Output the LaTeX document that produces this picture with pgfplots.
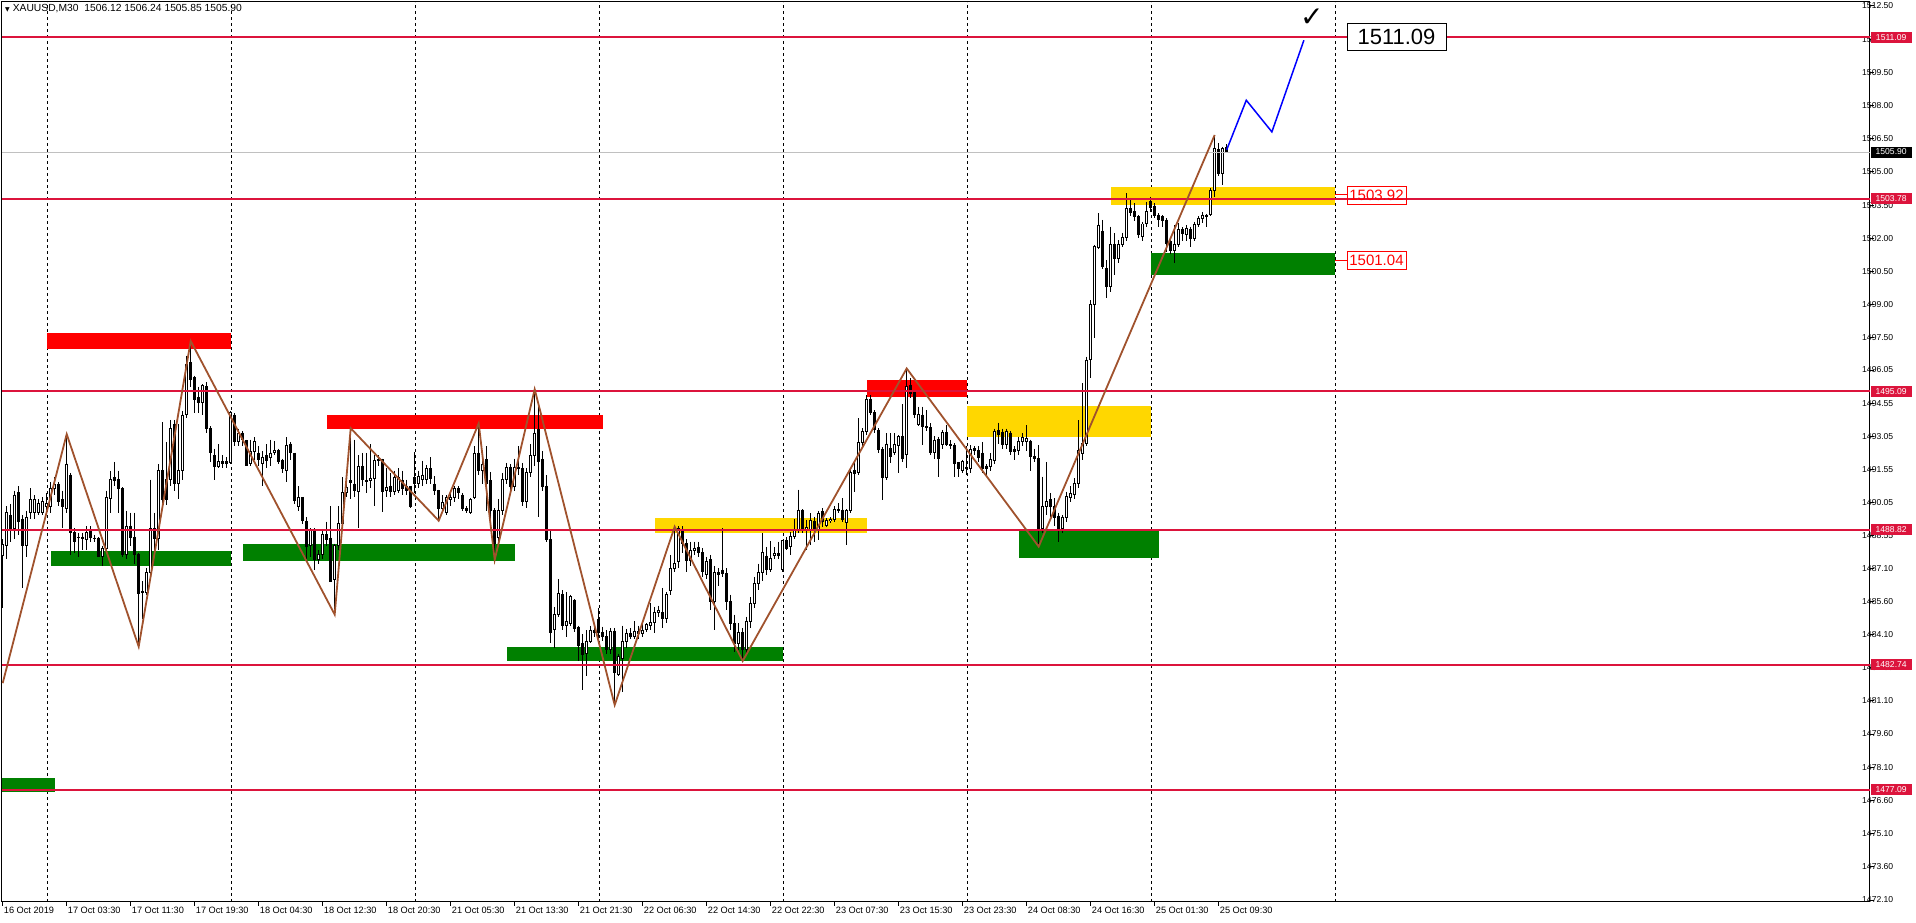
\documentclass[border=0pt]{standalone}
\usepackage{pgfplots}
\pgfplotsset{compat=1.18}
\usepackage{pgfplotstable}
\usepackage{fontspec}
\setmainfont{Liberation Sans}
\newfontfamily\dejavu{DejaVu Sans}
\definecolor{crim}{RGB}{220,20,60}
\definecolor{mtgreen}{RGB}{0,128,0}
\definecolor{mtred}{RGB}{255,0,0}
\definecolor{mtgold}{RGB}{255,215,0}
\definecolor{zz}{RGB}{160,82,45}
\definecolor{silv}{RGB}{192,192,192}

\pgfplotstableread{
O H L C
1487.65 1488.40 1485.30 1488.15
1488.10 1489.90 1487.50 1489.60
1489.50 1490.00 1488.30 1488.90
1488.90 1490.60 1488.40 1490.40
1490.50 1490.80 1488.60 1489.20
1489.30 1489.50 1486.20 1488.10
1488.10 1489.70 1487.60 1489.40
1489.60 1490.70 1489.30 1490.20
1489.60 1490.40 1489.30 1490.20
1489.60 1490.20 1489.50 1490.00
1489.60 1490.30 1489.50 1490.10
1489.90 1490.50 1489.50 1490.00
1489.90 1491.00 1489.60 1490.70
1490.70 1491.20 1490.40 1490.90
1490.90 1491.00 1489.90 1490.10
1490.20 1490.60 1488.90 1489.90
1489.80 1493.15 1489.60 1491.80
1491.30 1491.40 1487.70 1488.70
1488.70 1488.90 1487.80 1488.30
1488.50 1488.70 1487.60 1488.50
1488.50 1488.70 1487.90 1488.45
1488.40 1489.00 1487.90 1488.70
1488.80 1489.00 1488.30 1488.50
1488.45 1488.60 1488.30 1488.45
1488.45 1488.50 1487.60 1487.60
1487.60 1488.10 1487.20 1488.00
1488.00 1490.60 1487.90 1490.30
1490.25 1491.50 1489.60 1491.10
1491.20 1491.90 1490.80 1491.05
1491.10 1491.50 1489.60 1490.70
1490.70 1490.75 1487.60 1487.70
1487.70 1489.70 1487.50 1489.00
1489.00 1489.60 1488.10 1488.50
1488.50 1489.60 1487.30 1487.70
1487.70 1487.80 1483.55 1485.96
1486.00 1486.50 1484.80 1486.05
1486.00 1487.10 1485.90 1486.90
1486.90 1491.10 1486.80 1488.90
1488.90 1489.60 1487.90 1488.45
1488.45 1491.80 1487.90 1491.50
1491.50 1493.70 1489.90 1490.20
1491.10 1492.80 1489.95 1490.20
1491.10 1493.80 1490.80 1493.40
1493.60 1493.80 1490.60 1490.90
1490.90 1493.60 1490.20 1491.50
1491.50 1494.20 1491.10 1494.00
1494.05 1496.70 1493.90 1496.30
1496.40 1497.35 1495.30 1495.60
1495.70 1495.80 1494.10 1494.70
1494.80 1495.30 1494.10 1494.60
1494.60 1495.40 1494.00 1495.35
1495.30 1495.50 1493.20 1493.40
1493.40 1493.50 1491.90 1492.30
1492.20 1492.50 1491.10 1491.70
1491.70 1492.70 1491.60 1491.90
1491.90 1492.20 1491.60 1491.80
1491.90 1492.10 1491.60 1491.80
1491.85 1494.20 1491.80 1494.15
1494.00 1494.10 1492.60 1492.80
1492.80 1493.40 1492.60 1493.20
1493.20 1493.30 1492.60 1492.90
1492.85 1492.90 1491.70 1491.75
1491.80 1492.90 1491.70 1492.35
1492.35 1493.00 1492.00 1492.80
1492.30 1492.60 1491.70 1492.00
1491.80 1492.40 1490.80 1492.10
1492.20 1492.70 1491.60 1491.95
1492.10 1492.90 1491.70 1492.30
1492.30 1492.85 1492.20 1492.40
1492.40 1492.50 1491.80 1491.90
1491.95 1492.05 1491.40 1491.60
1491.50 1493.00 1491.00 1492.65
1492.70 1492.80 1492.00 1492.30
1492.30 1492.30 1490.00 1490.15
1489.90 1490.80 1489.70 1490.30
1490.30 1490.30 1489.10 1489.25
1489.20 1489.40 1487.50 1488.05
1488.10 1488.90 1487.60 1488.80
1488.80 1488.90 1487.00 1487.50
1487.50 1487.90 1487.30 1487.70
1487.70 1488.85 1487.50 1488.60
1488.60 1489.20 1488.10 1488.40
1488.45 1489.90 1486.50 1486.50
1486.60 1488.20 1485.00 1488.10
1488.10 1489.90 1487.90 1489.10
1489.10 1491.20 1489.00 1490.50
1490.50 1491.30 1490.30 1490.75
1491.05 1493.42 1490.20 1490.95
1490.90 1492.90 1490.30 1490.60
1490.55 1492.20 1488.90 1491.70
1491.70 1492.30 1490.80 1491.10
1491.05 1492.30 1490.50 1491.00
1491.05 1492.70 1490.70 1491.15
1491.15 1492.20 1489.90 1491.95
1491.95 1492.20 1491.70 1492.00
1492.00 1492.05 1489.65 1490.55
1490.60 1491.60 1490.30 1490.75
1490.80 1491.40 1490.30 1490.55
1490.55 1491.50 1490.40 1491.20
1490.60 1491.60 1490.50 1491.20
1491.05 1491.50 1490.40 1490.70
1490.80 1491.10 1490.40 1490.60
1490.80 1490.80 1489.80 1489.90
1491.20 1492.35 1490.50 1490.90
1490.90 1491.50 1490.70 1491.25
1491.10 1491.95 1490.80 1491.30
1491.10 1491.75 1490.90 1491.60
1491.60 1492.10 1490.90 1491.15
1490.90 1491.25 1490.40 1490.60
1490.60 1490.65 1489.25 1489.80
1489.80 1490.40 1489.60 1490.05
1489.60 1490.40 1489.50 1490.30
1490.20 1490.50 1489.90 1490.30
1490.30 1490.80 1490.10 1490.70
1490.70 1490.80 1490.20 1490.50
1490.40 1490.50 1489.70 1489.80
1489.80 1489.90 1489.60 1489.70
1489.60 1490.25 1489.55 1490.20
1490.30 1492.60 1490.20 1492.30
1492.30 1493.64 1491.30 1491.50
1491.50 1492.30 1490.90 1491.80
1492.00 1492.60 1489.70 1490.90
1491.05 1491.45 1489.30 1489.70
1489.70 1489.80 1487.47 1488.20
1488.50 1490.20 1488.30 1489.70
1489.70 1491.40 1489.50 1491.10
1491.10 1491.85 1490.90 1491.65
1491.65 1491.80 1490.60 1490.80
1490.80 1492.05 1490.60 1491.65
1491.60 1492.60 1491.30 1491.65
1491.60 1491.85 1489.90 1490.10
1490.10 1491.60 1489.80 1491.40
1491.40 1492.70 1491.20 1492.20
1492.20 1495.15 1491.70 1493.20
1493.35 1494.60 1489.40 1491.90
1492.00 1492.40 1490.60 1490.80
1490.80 1491.30 1488.30 1488.40
1488.40 1488.80 1483.70 1484.20
1484.30 1485.35 1483.50 1485.00
1485.00 1486.60 1484.90 1485.95
1485.90 1486.10 1484.30 1484.50
1484.50 1486.00 1484.00 1484.70
1484.60 1485.90 1484.50 1485.80
1485.65 1485.70 1484.20 1484.35
1484.40 1484.50 1482.90 1483.60
1483.70 1484.10 1481.60 1483.20
1483.25 1484.30 1482.20 1483.80
1483.80 1484.50 1483.70 1484.30
1484.30 1484.60 1484.00 1484.20
1484.80 1485.30 1483.80 1484.20
1484.20 1484.45 1483.80 1484.00
1484.00 1484.30 1483.20 1483.40
1483.40 1484.40 1483.20 1484.25
1484.25 1484.40 1480.91 1482.40
1482.30 1483.20 1482.20 1483.10
1483.00 1484.50 1481.50 1483.80
1483.80 1484.35 1483.50 1484.15
1484.15 1484.40 1483.90 1484.00
1484.00 1484.70 1483.90 1484.25
1484.25 1484.50 1483.90 1484.15
1484.15 1484.70 1484.00 1484.30
1484.30 1484.60 1484.20 1484.55
1484.50 1485.50 1484.30 1484.65
1484.65 1485.35 1484.15 1485.10
1485.10 1485.40 1484.90 1485.20
1485.10 1486.20 1484.40 1484.80
1484.80 1486.00 1484.60 1485.90
1486.10 1487.70 1485.90 1487.10
1487.10 1488.97 1486.90 1487.30
1487.40 1489.00 1487.10 1488.90
1488.85 1489.00 1487.80 1488.20
1488.20 1488.40 1486.90 1487.45
1487.45 1488.30 1487.20 1487.90
1487.90 1488.30 1487.70 1488.00
1488.05 1488.30 1487.60 1487.80
1487.80 1488.00 1486.70 1486.95
1486.80 1487.60 1486.60 1487.40
1487.50 1487.70 1485.20 1485.60
1485.60 1487.20 1484.30 1486.90
1486.90 1487.10 1486.30 1486.80
1487.00 1488.92 1486.70 1486.85
1486.85 1487.10 1485.20 1485.60
1485.60 1485.90 1484.30 1484.60
1484.60 1485.00 1483.30 1483.70
1483.70 1484.60 1483.40 1484.20
1484.20 1484.40 1482.90 1483.40
1483.40 1484.90 1483.20 1484.70
1484.70 1485.80 1484.40 1485.50
1485.50 1486.70 1485.30 1486.40
1486.40 1487.30 1486.10 1486.90
1486.90 1488.67 1486.50 1487.81
1487.64 1488.06 1486.80 1487.01
1487.01 1488.33 1486.90 1487.54
1487.67 1488.06 1487.50 1487.76
1487.76 1488.29 1487.50 1487.67
1487.01 1488.37 1486.90 1488.33
1488.33 1488.49 1487.90 1487.99
1488.06 1488.74 1487.69 1488.52
1488.52 1489.30 1488.40 1488.82
1488.85 1490.65 1488.70 1489.72
1489.72 1489.75 1488.70 1488.85
1488.85 1489.27 1487.91 1488.92
1488.85 1489.57 1488.14 1489.24
1489.19 1489.42 1488.29 1488.82
1488.82 1489.68 1488.37 1489.57
1489.64 1489.80 1488.97 1489.19
1489.04 1489.34 1488.97 1489.24
1489.24 1489.40 1489.15 1489.30
1489.30 1489.90 1489.19 1489.75
1489.75 1490.02 1489.60 1489.68
1489.72 1490.25 1489.20 1489.30
1489.15 1489.75 1488.14 1489.72
1489.68 1491.53 1489.60 1491.41
1491.53 1491.86 1490.55 1491.38
1491.41 1493.86 1491.30 1492.76
1492.76 1493.41 1492.60 1493.26
1493.26 1494.92 1493.10 1494.74
1494.74 1494.92 1494.00 1494.12
1494.12 1494.24 1493.20 1493.34
1493.34 1493.41 1492.30 1492.46
1492.46 1492.58 1490.17 1491.20
1491.20 1493.19 1491.10 1492.70
1492.51 1493.19 1491.83 1492.13
1492.33 1493.19 1492.20 1492.69
1492.63 1493.11 1491.38 1493.03
1493.06 1494.50 1491.90 1492.06
1492.24 1496.12 1491.60 1495.32
1495.37 1495.67 1494.80 1494.99
1495.04 1495.14 1493.90 1494.04
1493.59 1494.39 1493.50 1494.04
1494.01 1494.39 1492.66 1493.49
1493.49 1494.24 1493.30 1493.44
1493.44 1493.64 1492.20 1492.33
1492.33 1493.06 1492.03 1492.88
1492.91 1493.03 1491.23 1492.06
1492.66 1493.34 1492.50 1493.22
1493.22 1493.56 1492.60 1492.70
1492.69 1492.88 1492.50 1492.63
1492.66 1492.73 1491.23 1491.83
1491.87 1491.90 1491.23 1491.60
1491.50 1492.00 1491.40 1491.90
1491.60 1492.60 1491.30 1491.65
1491.60 1492.66 1491.40 1492.46
1492.50 1492.60 1492.20 1492.40
1492.40 1492.60 1491.90 1492.10
1492.30 1492.80 1491.40 1491.60
1491.70 1491.80 1491.20 1491.60
1491.70 1492.30 1491.50 1492.00
1491.98 1493.40 1491.80 1493.29
1493.30 1493.67 1492.70 1493.14
1493.25 1493.40 1492.50 1492.66
1492.70 1493.40 1492.50 1493.29
1493.20 1493.30 1492.20 1492.36
1492.48 1492.60 1492.00 1492.36
1492.40 1493.04 1492.20 1492.84
1492.80 1493.20 1492.60 1493.00
1492.80 1493.56 1492.40 1492.95
1492.84 1492.90 1491.50 1492.13
1492.13 1492.50 1491.90 1492.05
1492.05 1492.66 1488.07 1488.90
1488.90 1491.23 1488.70 1489.87
1489.90 1491.90 1489.50 1490.10
1490.18 1490.50 1489.40 1489.90
1489.90 1490.25 1489.00 1489.40
1489.45 1489.60 1488.30 1488.90
1488.90 1489.50 1488.70 1489.40
1489.40 1490.55 1489.20 1490.33
1490.30 1490.80 1490.10 1490.45
1490.40 1491.15 1490.20 1490.93
1490.90 1493.79 1490.70 1492.43
1492.28 1495.45 1492.00 1492.74
1492.74 1496.65 1492.60 1496.50
1496.50 1499.21 1495.67 1498.99
1498.99 1501.70 1497.48 1501.62
1501.60 1503.13 1501.50 1502.60
1502.33 1502.83 1500.60 1500.72
1500.64 1501.02 1499.29 1499.81
1499.81 1502.53 1499.59 1501.73
1501.73 1502.23 1500.34 1501.10
1501.10 1501.92 1500.87 1501.73
1501.70 1502.26 1501.60 1502.03
1502.03 1504.03 1501.90 1503.35
1503.35 1503.73 1503.00 1503.17
1503.20 1503.58 1502.80 1502.98
1502.98 1503.05 1502.00 1502.15
1502.07 1502.75 1501.90 1502.65
1502.65 1503.66 1502.50 1503.20
1503.66 1503.88 1503.20 1503.40
1503.46 1503.58 1502.90 1503.05
1503.05 1503.13 1502.53 1502.86
1502.98 1503.05 1502.50 1502.80
1502.83 1502.90 1501.40 1501.77
1501.85 1502.00 1501.30 1501.47
1501.44 1502.60 1500.90 1501.74
1501.74 1502.68 1501.60 1502.38
1502.38 1502.50 1501.90 1502.23
1502.15 1502.60 1501.90 1502.45
1502.41 1502.53 1501.62 1502.00
1502.00 1502.75 1501.90 1502.63
1502.63 1503.00 1502.50 1502.90
1502.90 1503.20 1502.70 1503.05
1503.05 1503.10 1502.53 1502.98
1503.08 1504.26 1503.00 1504.15
1504.18 1506.64 1503.88 1506.07
1506.02 1506.29 1504.80 1504.91
1504.91 1506.14 1504.41 1506.07
1506.12 1506.24 1505.85 1505.90
}\candles

\begin{document}
\begin{tikzpicture}
\path[use as bounding box] (0,0) rectangle (1916pt,923pt);
\begin{axis}[
  at={(2pt,21pt)}, anchor=south west,
  width=1868pt, height=900pt, scale only axis,
  xmin=-0.175, xmax=466.825, ymin=1472.01, ymax=1512.68,
  clip mode=individual,
  axis line style={black, line width=1pt},
  xtick={0,16,...,304},
  xticklabels={16 Oct 2019,17 Oct 03:30,17 Oct 11:30,17 Oct 19:30,18 Oct 04:30,18 Oct 12:30,18 Oct 20:30,21 Oct 05:30,21 Oct 13:30,21 Oct 21:30,22 Oct 06:30,22 Oct 14:30,22 Oct 22:30,23 Oct 07:30,23 Oct 15:30,23 Oct 23:30,24 Oct 08:30,24 Oct 16:30,25 Oct 01:30,25 Oct 09:30},
  ytick={1512.50,1511.00,1509.50,1508.00,1506.50,1505.00,1503.50,1502.00,1500.50,1499.00,1497.50,1496.05,1494.55,1493.05,1491.55,1490.05,1488.55,1487.10,1485.60,1484.10,1482.60,1481.10,1479.60,1478.10,1476.60,1475.10,1473.60,1472.10},
  yticklabels={1512.50,1511.00,1509.50,1508.00,1506.50,1505.00,1503.50,1502.00,1500.50,1499.00,1497.50,1496.05,1494.55,1493.05,1491.55,1490.05,1488.55,1487.10,1485.60,1484.10,1482.60,1481.10,1479.60,1478.10,1476.60,1475.10,1473.60,1472.10},
  xtick pos=bottom, ytick pos=right,
  tick align=outside, major tick length=4pt,
  tick style={black, line width=1pt},
  xticklabel style={font=\fontsize{9.2}{10}\selectfont, anchor=north west, inner sep=0pt, xshift=1pt, yshift=-1pt},
  yticklabel style={font=\fontsize{8.6}{9}\selectfont, anchor=west, inner sep=0pt, xshift=-12pt},
]
% day separators
\foreach \s in {11.15,57.15,103.15,149.15,195.15,241.15,287.15,333.15}{
  \edef\tmp{\noexpand\draw[black, line width=1pt, dash pattern=on 3pt off 3pt] (axis cs:\s,1472.01) -- (axis cs:\s,1512.68);}
  \tmp
}
% zones
\fill[mtred] (axis cs:11.15,1497.0) rectangle (axis cs:57.15,1497.74);
\fill[mtgreen] (axis cs:12.1,1487.2) rectangle (axis cs:57.15,1487.87);
\fill[mtgreen] (axis cs:60.1,1487.43) rectangle (axis cs:128.1,1488.19);
\fill[mtred] (axis cs:81.15,1493.38) rectangle (axis cs:150.0,1494.02);
\fill[mtgreen] (axis cs:126.15,1482.92) rectangle (axis cs:195.0,1483.55);
\fill[mtgold] (axis cs:163.1,1488.70) rectangle (axis cs:216.0,1489.35);
\fill[mtred] (axis cs:216.1,1494.84) rectangle (axis cs:241.15,1495.60);
\fill[mtgold] (axis cs:241.15,1493.04) rectangle (axis cs:287.1,1494.42);
\fill[mtgreen] (axis cs:254.1,1487.57) rectangle (axis cs:289.1,1488.79);
\fill[mtgold] (axis cs:277.1,1503.51) rectangle (axis cs:333.15,1504.32);
\fill[mtgreen] (axis cs:287.15,1500.36) rectangle (axis cs:333.15,1501.34);
\fill[mtgreen] (axis cs:-0.175,1476.98) rectangle (axis cs:13.1,1477.61);
% candles: wicks
\addplot[draw=none, mark=none, forget plot,
  error bars/.cd, y dir=minus, y explicit, error mark=none,
  error bar style={draw=black, line width=1pt}]
  table[x expr=\coordindex, y=H, y error expr=\thisrow{H}-\thisrow{L}] {\candles};
% bodies
\addplot[draw=none, mark=none, forget plot,
  error bars/.cd, y dir=minus, y explicit, error mark=none,
  error bar style={draw=black, line width=3pt}]
  table[x expr=\coordindex, y expr={max(\thisrow{O},\thisrow{C})+0.02}, y error expr={abs(\thisrow{O}-\thisrow{C})+0.04}] {\candles};
% hollow bull bodies
\addplot[draw=none, mark=none, forget plot,
  error bars/.cd, y dir=minus, y explicit, error mark=none,
  error bar style={draw=white, line width=1.1pt}]
  table[x expr=\coordindex, y expr={\thisrow{C}-0.025}, y error expr={max(\thisrow{C}-\thisrow{O}-0.05,0)}] {\candles};
% level lines
\addplot[silv, line width=1pt] coordinates {(-0.175,1505.90) (466.825,1505.90)};
\addplot[crim, line width=2pt] coordinates {(-0.175,1511.09) (466.825,1511.09)};
\addplot[crim, line width=2pt] coordinates {(-0.175,1503.78) (466.825,1503.78)};
\addplot[crim, line width=2pt] coordinates {(-0.175,1495.09) (466.825,1495.09)};
\addplot[crim, line width=2pt] coordinates {(-0.175,1488.82) (466.825,1488.82)};
\addplot[crim, line width=2pt] coordinates {(-0.175,1482.74) (466.825,1482.74)};
\addplot[crim, line width=2pt] coordinates {(-0.175,1477.09) (466.825,1477.09)};
% zigzag
\addplot[zz, line width=1.8pt] coordinates {
 (0,1481.9) (16,1493.15) (34,1483.55) (47,1497.36) (83,1485.0) (87,1493.42)
 (109,1489.24) (119,1493.64) (123,1487.47) (133,1495.18) (153,1480.91)
 (168,1488.97) (185,1482.9) (226,1496.12) (259,1488.07) (303,1506.67)};
% projection
\addplot[blue, line width=1.5pt] coordinates {(306,1506.0) (310.9,1508.24) (317.3,1506.81) (325.3,1510.95)};
% labels
\draw[mtred, line width=1pt] (axis cs:333.15,1503.96) -- (axis cs:336.1,1503.96);
\draw[mtred, line width=1pt] (axis cs:333.15,1501.02) -- (axis cs:336.1,1501.02);
\node[draw=mtred, text=mtred, line width=0.8pt, inner sep=0pt, minimum width=59pt, minimum height=18pt, font=\fontsize{15}{15}\selectfont] at (axis cs:343.45,1503.96) {1503.92};
\node[draw=mtred, text=mtred, line width=0.8pt, inner sep=0pt, minimum width=59pt, minimum height=18pt, font=\fontsize{15}{15}\selectfont] at (axis cs:343.45,1501.02) {1501.04};
\node[draw=black, fill=white, line width=0.8pt, inner sep=0pt, minimum width=99pt, minimum height=27pt, font=\fontsize{22}{22}\selectfont] at (axis cs:348.45,1511.08) {1511.09};
\node[font=\dejavu\fontsize{28}{28}\selectfont, inner sep=0pt] at (axis cs:327.3,1511.96) {✓};
\coordinate (P1) at (axis cs:466.825,1511.09);
\coordinate (P2) at (axis cs:466.825,1503.78);
\coordinate (P3) at (axis cs:466.825,1495.09);
\coordinate (P4) at (axis cs:466.825,1488.82);
\coordinate (P5) at (axis cs:466.825,1482.74);
\coordinate (P6) at (axis cs:466.825,1477.09);
\coordinate (PB) at (axis cs:466.825,1505.90);
\end{axis}
\tikzset{plab/.style={anchor=west, inner sep=0pt, minimum width=41pt, minimum height=11pt, text=white, font=\fontsize{8.6}{9}\selectfont}}
\node[plab, fill=crim] at ([xshift=0.5pt]P1) {1511.09};
\node[plab, fill=crim] at ([xshift=0.5pt]P2) {1503.78};
\node[plab, fill=crim] at ([xshift=0.5pt]P3) {1495.09};
\node[plab, fill=crim] at ([xshift=0.5pt]P4) {1488.82};
\node[plab, fill=crim] at ([xshift=0.5pt]P5) {1482.74};
\node[plab, fill=crim] at ([xshift=0.5pt]P6) {1477.09};
\node[plab, fill=black] at ([xshift=0.5pt]PB) {1505.90};
\node[anchor=west, inner sep=0pt] at (5pt,914pt) {{\dejavu\fontsize{6}{6}\selectfont ▼}\hspace{3pt}{\fontsize{10.3}{11}\selectfont XAUUSD,M30\ \ 1506.12 1506.24 1505.85 1505.90}};
\end{tikzpicture}
\end{document}
